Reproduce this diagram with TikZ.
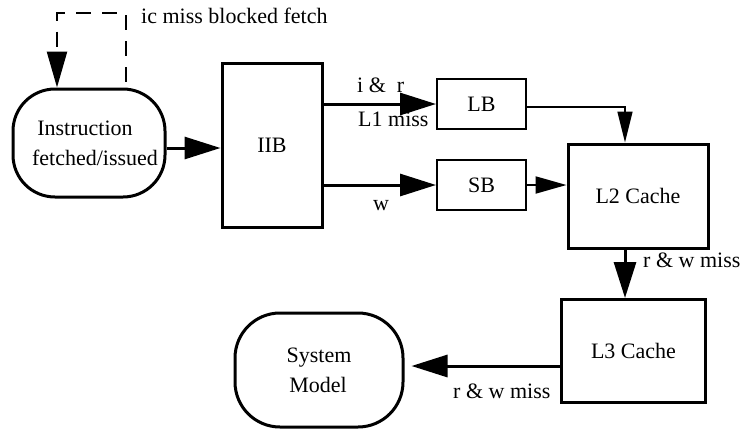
\documentclass[tikz,border=0pt]{standalone}
\usepackage{fontspec}
\setmainfont{Liberation Serif}
\usetikzlibrary{arrows.meta}

\begin{document}
\begin{tikzpicture}[x=1pt, y=-1pt,
  every node/.style={font=\fontsize{22}{30}\selectfont, inner sep=0pt},
  bigbox/.style={draw, line width=3pt, line join=miter},
  smallbox/.style={draw, line width=2pt, line join=miter},
  term/.style={draw, line width=3pt, rounded corners=42pt, align=center},
  arr/.style={-{Triangle[length=36pt, width=22pt]}, line width=3pt},
  midarr/.style={-{Triangle[length=31pt, width=17pt]}, line width=2pt},
  thinarr/.style={-{Triangle[length=31pt, width=15pt]}, line width=1.5pt},
  dasharr/.style={-{Triangle[length=36pt, width=20pt]}, line width=2.5pt,
    dash pattern=on 15pt off 11pt},
  lbl/.style={anchor=base west}]

\useasboundingbox (0,0) rectangle (754,429);

% blocks
\node[term, minimum width=152pt, minimum height=108pt] (inst) at (89,143)
  {Instruction\hspace*{8pt}\\\hspace*{12pt}fetched/issued};
\node[bigbox, minimum width=100pt, minimum height=164pt] (iib) at (272,145) {IIB};
\node[smallbox, minimum width=89pt, minimum height=50pt] (lb) at (481.5,104) {LB};
\node[smallbox, minimum width=89pt, minimum height=50pt] (sb) at (481.5,185) {SB};
\node[bigbox, minimum width=140pt, minimum height=104pt] (l2) at (638,196) {L2 Cache};
\node[bigbox, minimum width=144pt, minimum height=103pt] (l3) at (633.5,351) {L3 Cache};
\node[term, rounded corners=45pt, minimum width=168pt, minimum height=114pt] (sys) at (319,370)
  {System\\Model\hspace*{2pt}};

% helper coordinates for the routed connectors
\coordinate (dtop) at (0,13);
\coordinate (vx) at (625,0);
\coordinate (hy) at (0,366);

% blocked-fetch feedback loop
\draw[dasharr] ([xshift=37pt, yshift=6pt]inst.north)
  -- ([xshift=37pt]inst.north |- dtop)
  -- ([xshift=-32pt]inst.north |- dtop)
  -- ([xshift=-32pt]inst.north);
\node[lbl] (lblic) at (141,23) {ic miss blocked fetch};

% instruction flow
\draw[arr] ([yshift=-5pt]inst.east) -- (iib.west |- 0,148);
\draw[arr] (iib.east |- lb.west) -- (lb.west);
\draw[arr] (iib.east |- sb.west) -- (sb.west);
\node[lbl] (lblir) at (357,92) {i \&\ \ r};
\node[lbl] (lblmiss) at (358,126) {L1 miss};
\node[lbl] (lblw) at (373,210) {w};

% buffers to L2
\draw[thinarr] ([yshift=-3pt]lb.east) -| (l2.north -| vx);
\draw[midarr] (sb.east) -- (sb.east -| l2.west);

% L2 to L3
\draw[arr] (l2.south -| vx) -- (l3.north -| vx);
\node[lbl] (lbll2) at (643,267) {r \& w miss};

% L3 to system model
\draw[arr, shorten >=7pt] (l3.west |- hy) -- (sys.east |- hy);
\node[lbl] (lbll3) at (453,398) {r \& w miss};

\end{tikzpicture}
\end{document}
